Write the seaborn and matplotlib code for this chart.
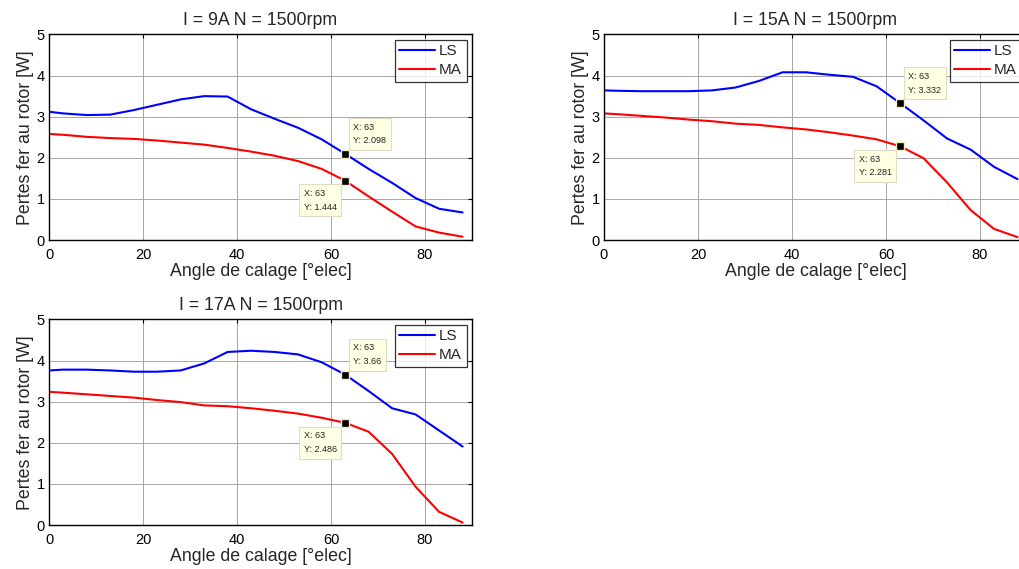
import matplotlib
matplotlib.use('Agg')
import matplotlib.pyplot as plt
import seaborn as sns
import pandas as pd

# Angle de calage [deg elec]
angle = [0, 3, 8, 13, 18, 23, 28, 33, 38, 43, 48, 53, 58, 63, 68, 73, 78, 83, 88]

# Pertes fer au rotor [W]
ls_9a = [3.12, 3.08, 3.04, 3.05, 3.16, 3.29, 3.42, 3.50, 3.49, 3.18, 2.95, 2.73, 2.45, 2.098, 1.73, 1.39, 1.02, 0.76, 0.67]
ma_9a = [2.58, 2.56, 2.51, 2.48, 2.46, 2.42, 2.37, 2.32, 2.24, 2.15, 2.05, 1.92, 1.73, 1.444, 1.06, 0.69, 0.33, 0.18, 0.08]
ls_15a = [3.64, 3.63, 3.62, 3.62, 3.62, 3.64, 3.71, 3.87, 4.08, 4.08, 4.02, 3.97, 3.74, 3.332, 2.91, 2.47, 2.20, 1.78, 1.48]
ma_15a = [3.08, 3.06, 3.02, 2.98, 2.93, 2.89, 2.83, 2.80, 2.74, 2.69, 2.62, 2.54, 2.45, 2.281, 1.99, 1.40, 0.73, 0.27, 0.07]
ls_17a = [3.76, 3.78, 3.78, 3.76, 3.73, 3.73, 3.76, 3.93, 4.21, 4.24, 4.21, 4.15, 3.96, 3.66, 3.26, 2.84, 2.69, 2.30, 1.91]
ma_17a = [3.24, 3.22, 3.18, 3.14, 3.10, 3.04, 2.99, 2.91, 2.89, 2.84, 2.78, 2.71, 2.61, 2.486, 2.27, 1.73, 0.93, 0.32, 0.06]

titles = ['I = 9A N = 1500rpm', 'I = 15A N = 1500rpm', 'I = 17A N = 1500rpm']
series_names = ['LS', 'MA']
tip_x = 63

sns.set_theme(style='white')
plt.rcParams['font.family'] = ['Liberation Sans', 'DejaVu Sans']

fig = plt.figure(figsize=(10.19, 5.69), dpi=100)
positions = [
    [0.0481, 0.5782, 0.4151, 0.3612],
    [0.5927, 0.5782, 0.4151, 0.3612],
    [0.0481, 0.0773, 0.4151, 0.3612],
]
palette = {'LS': '#0000ff', 'MA': '#ff0000'}
data = [(ls_9a, ma_9a), (ls_15a, ma_15a), (ls_17a, ma_17a)]

for pos, title, (ls, ma) in zip(positions, titles, data):
    ax = fig.add_axes(pos)
    df = pd.DataFrame({
        'angle': angle * 2,
        'pertes': ls + ma,
        'serie': ['LS'] * len(angle) + ['MA'] * len(angle),
    })
    sns.lineplot(data=df, x='angle', y='pertes', hue='serie', palette=palette,
                 linewidth=1.5, legend=False, ax=ax)

    ax.set_xlim(0, 90)
    ax.set_ylim(0, 5)
    ax.set_xticks([0, 20, 40, 60, 80])
    ax.set_yticks([0, 1, 2, 3, 4, 5])
    ax.grid(True, color='#a6a6a6', linewidth=0.7)
    ax.tick_params(direction='in', length=3, width=0.8, top=True, right=True,
                   labelsize=10.5, pad=3, colors='black')
    ax.tick_params(axis='x', pad=5.5)
    for s in ax.spines.values():
        s.set_color('black')
        s.set_linewidth(1.0)
    ax.set_title(title, fontsize=12.8, pad=7)
    ax.set_xlabel('Angle de calage [°elec]', fontsize=12.8, labelpad=1)
    ax.set_ylabel('Pertes fer au rotor [W]', fontsize=12.8, labelpad=2)

    leg = ax.legend(ax.get_lines()[:2], series_names, loc='upper right',
                    fontsize=11, frameon=True, fancybox=False, handlelength=2.3,
                    borderpad=0.3, labelspacing=0.3, handletextpad=0.3,
                    borderaxespad=0.35)
    leg.get_frame().set_edgecolor('black')
    leg.get_frame().set_linewidth(0.9)

    # data tips at x = 63
    i = angle.index(tip_x)
    for val, up in [(ls[i], True), (ma[i], False)]:
        ax.plot([tip_x], [val], marker='s', markersize=6, color='black',
                markeredgecolor='#f2eec0', markeredgewidth=1, zorder=5)
        label = 'X: %d\nY: %s' % (tip_x, ('%.3f' % val).rstrip('0'))
        off = (6, 6) if up else (-6, -6)
        ax.annotate(label, xy=(tip_x, val), xytext=off, textcoords='offset points',
                    ha='left' if up else 'right', va='bottom' if up else 'top',
                    multialignment='left',
                    fontsize=6.5, linespacing=1.7, color='#222222', zorder=6,
                    bbox=dict(boxstyle='square,pad=0.5', facecolor='#ffffe4',
                              edgecolor='#dedcc4', linewidth=0.8))

fig.savefig('out.png', dpi=100)
